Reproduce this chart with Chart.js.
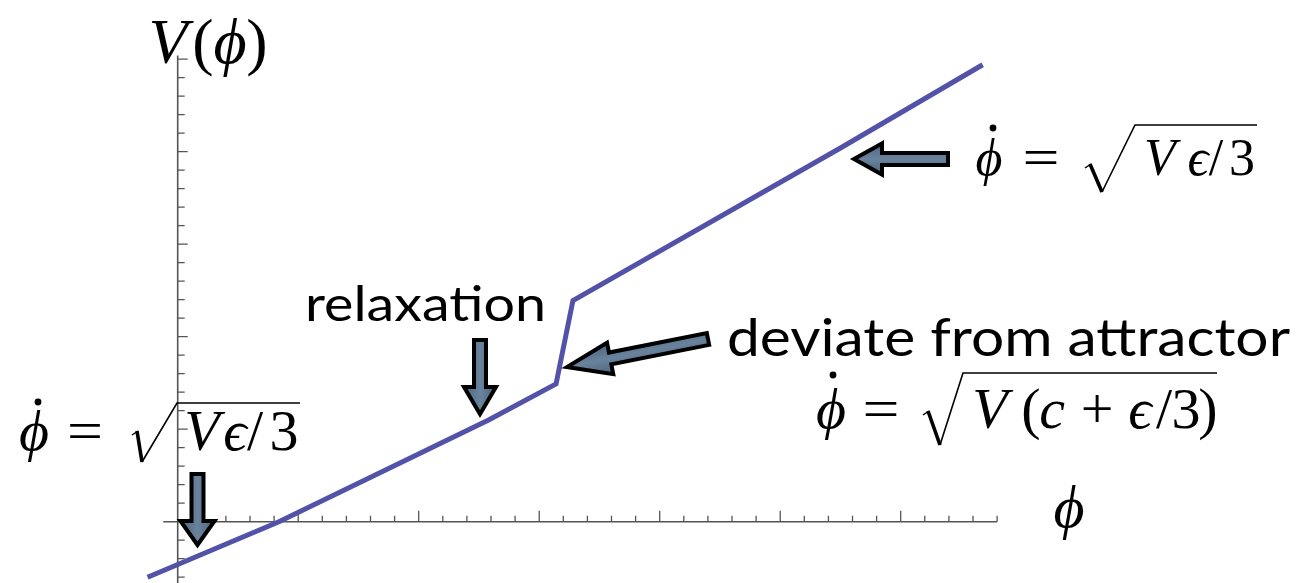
<!DOCTYPE html>
<html lang="en">
<head>
<meta charset="UTF-8">
<title>V(phi)</title>
<script src="https://cdn.jsdelivr.net/npm/chart.js"></script>
<style>
  body { margin: 0; background: #fff; }
  canvas { display: block; }
</style>
</head>
<body>
<canvas id="grafico" width="1308" height="583"></canvas>
<script>
// potential V(phi): relaxation, jump off the attractor, back on the attractor
const phiValues = [-0.25, 0.84, 2.58, 3.14, 3.28, 5.50, 6.68];
const vValues   = [-0.60, 0.00, 1.10, 1.49, 2.39, 4.04, 4.94];

// axis extent and ticks (major every 1, minor every 0.2)
const xAxisFrom = -0.12, xAxisTo = 6.8;
const yAxisTo = 5.04;
const xTicks = [];
for (let i = 1; i <= 34; i++) xTicks.push(i / 5);
const yTicks = [];
for (let i = -3; i <= 25; i++) if (i !== 0) yTicks.push(i / 5);

const serif = '"Liberation Serif", "DejaVu Serif", serif';
const sans = 'Lato, "Open Sans", sans-serif';

function texto(ctx, s, x, y, font, larg) {
  ctx.font = font;
  const w = ctx.measureText(s).width;
  ctx.save();
  ctx.translate(x, y);
  if (larg) ctx.scale(larg / w, 1);
  ctx.fillText(s, 0, 0);
  ctx.restore();
}

// glyphs: [text, italic, centre x, optional width], all on one baseline
function glifos(ctx, lista, y, size) {
  ctx.save();
  ctx.textAlign = 'center';
  lista.forEach(g => {
    ctx.font = (g[1] ? 'italic ' : '') + size + 'px ' + serif;
    ctx.save();
    ctx.translate(g[2], y);
    if (g[3]) ctx.scale(g[3] / ctx.measureText(g[0]).width, 1);
    ctx.fillText(g[0], 0, 0);
    ctx.restore();
  });
  ctx.restore();
}

// radical sign: start of tick, vertex, top, end of the bar
function raiz(ctx, r) {
  ctx.save();
  ctx.strokeStyle = '#000';
  ctx.lineCap = 'butt';
  ctx.lineJoin = 'miter';
  ctx.lineWidth = 1.5;
  ctx.beginPath(); ctx.moveTo(r[0], r[1] + 3); ctx.lineTo(r[0] + 6, r[1] - 1); ctx.stroke();
  ctx.lineWidth = 3.6;
  ctx.beginPath(); ctx.moveTo(r[0] + 5, r[1] - 1); ctx.lineTo(r[2], r[3]); ctx.stroke();
  ctx.lineWidth = 1.6;
  ctx.beginPath(); ctx.moveTo(r[2], r[3]); ctx.lineTo(r[4], r[5]); ctx.lineTo(r[6], r[5]); ctx.stroke();
  ctx.restore();
}

function ponto(ctx, x, y) {
  ctx.beginPath();
  ctx.arc(x, y, 3.4, 0, Math.PI * 2);
  ctx.fill();
}

function seta(ctx, x1, y1, x2, y2, haste, cabeca, compCabeca) {
  const len = Math.hypot(x2 - x1, y2 - y1);
  const ang = Math.atan2(y2 - y1, x2 - x1);
  ctx.save();
  ctx.translate(x1, y1);
  ctx.rotate(ang);
  const b = len - compCabeca;
  ctx.beginPath();
  ctx.moveTo(0, -haste / 2);
  ctx.lineTo(b, -haste / 2);
  ctx.lineTo(b, -cabeca / 2);
  ctx.lineTo(len, 0);
  ctx.lineTo(b, cabeca / 2);
  ctx.lineTo(b, haste / 2);
  ctx.lineTo(0, haste / 2);
  ctx.closePath();
  const g = ctx.createLinearGradient(0, -cabeca / 2, 0, cabeca / 2);
  g.addColorStop(0, '#4d6580');
  g.addColorStop(0.5, '#6a839c');
  g.addColorStop(1, '#4d6580');
  ctx.fillStyle = g;
  ctx.fill();
  ctx.lineWidth = 4;
  ctx.lineJoin = 'miter';
  ctx.strokeStyle = '#000';
  ctx.stroke();
  ctx.restore();
}

const eixos = {
  id: 'eixos',
  beforeDatasetsDraw(chart) {
    const ctx = chart.ctx, sx = chart.scales.x, sy = chart.scales.y;
    const x0 = sx.getPixelForValue(0), y0 = sy.getPixelForValue(0);
    ctx.save();
    ctx.strokeStyle = '#555';
    ctx.lineWidth = 1.6;
    ctx.beginPath();
    ctx.moveTo(sx.getPixelForValue(xAxisFrom), y0);
    ctx.lineTo(sx.getPixelForValue(xAxisTo), y0);
    ctx.moveTo(x0, sy.getPixelForValue(yAxisTo));
    ctx.lineTo(x0, chart.height);
    ctx.stroke();
    ctx.lineWidth = 1.3;
    ctx.beginPath();
    xTicks.forEach(v => {
      const p = sx.getPixelForValue(v);
      const major = Math.abs(v - Math.round(v)) < 1e-6;
      ctx.moveTo(p, y0);
      ctx.lineTo(p, y0 - (major ? 11 : 6));
    });
    yTicks.forEach(v => {
      const p = sy.getPixelForValue(v);
      const major = Math.abs(v - Math.round(v)) < 1e-6;
      ctx.moveTo(x0, p);
      ctx.lineTo(x0 + (major ? 10 : 7), p);
    });
    ctx.stroke();
    ctx.restore();
  },
  afterDatasetsDraw(chart) {
    const ctx = chart.ctx;
    ctx.save();
    ctx.fillStyle = '#000';
    ctx.textBaseline = 'alphabetic';

    // axis titles
    glifos(ctx, [['V', true, 168], ['(', false, 203], ['\u03D5', true, 230], [')', false, 257]], 63, 64);
    glifos(ctx, [['\u03D5', true, 1069]], 527, 60);

    // text labels
    texto(ctx, 'relaxation', 305, 321, '48px ' + sans, 241);
    texto(ctx, 'deviate from attractor', 727, 356, '52px ' + sans, 563);

    // phi-dot = sqrt(V eps / 3), lower left
    glifos(ctx, [['\u03D5', true, 34], ['=', false, 85, 36], ['V', true, 202], ['\u03F5', true, 235],
                 ['/', false, 255], ['3', false, 284]], 450, 58);
    ponto(ctx, 38, 402);
    raiz(ctx, [132, 432, 142, 462, 177, 403, 300]);

    // phi-dot = sqrt(V eps / 3), upper right
    glifos(ctx, [['\u03D5', true, 989], ['=', false, 1041, 37], ['V', true, 1160], ['\u03F5', true, 1198],
                 ['/', false, 1216], ['3', false, 1242]], 175, 52);
    ponto(ctx, 993, 128);
    raiz(ctx, [1085, 165, 1102, 192, 1135, 125, 1257]);

    // phi-dot = sqrt(V (c + eps / 3)), off the attractor
    glifos(ctx, [['\u03D5', true, 831], ['=', false, 881, 37], ['V', true, 990], ['(', false, 1031],
                 ['c', true, 1052], ['+', false, 1097], ['\u03F5', true, 1140], ['/', false, 1164],
                 ['3', false, 1186], [')', false, 1208]], 428, 58);
    ponto(ctx, 833, 375);
    raiz(ctx, [923, 412, 940, 445, 963, 373, 1217]);

    // block arrows
    seta(ctx, 197.5, 474, 197.5, 545, 12, 34, 24);
    seta(ctx, 480, 340, 480, 414, 12, 32, 27);
    seta(ctx, 948, 159, 854, 159, 12, 31, 28);
    seta(ctx, 708, 339, 567, 367, 12, 32, 44);
    ctx.restore();
  }
};

const pontos = phiValues.map((p, i) => ({ x: p, y: vValues[i] }));

new Chart(document.getElementById('grafico'), {
  type: 'scatter',
  data: {
    datasets: [{
      data: pontos,
      showLine: true,
      borderColor: '#5252a8',
      borderWidth: 5,
      pointRadius: 0,
      tension: 0,
      borderJoinStyle: 'miter',
      borderCapStyle: 'butt'
    }]
  },
  options: {
    responsive: false,
    animation: false,
    devicePixelRatio: 1,
    layout: { padding: 0 },
    plugins: { legend: { display: false }, tooltip: { enabled: false } },
    scales: {
      x: { type: 'linear', min: -1.4747, max: 9.380, display: false },
      y: { type: 'linear', min: -0.6627, max: 5.640, display: false }
    }
  },
  plugins: [eixos]
});
</script>
</body>
</html>
